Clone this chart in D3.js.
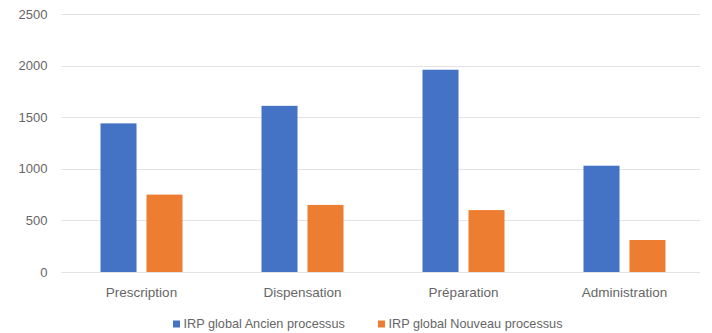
<!DOCTYPE html>
<html>
<head>
<meta charset="utf-8">
<script src="https://cdn.jsdelivr.net/npm/d3@7"></script>
<style>
  html, body { margin: 0; padding: 0; background: #fff; }
  svg { display: block; font-family: "Liberation Sans", Arial, sans-serif; }
</style>
</head>
<body>
<svg id="chart" width="712" height="333"></svg>
<script>
// Étapes du circuit du médicament
const categories = ["Prescription", "Dispensation", "Préparation", "Administration"];
// IRP global par étape
const ancien = [1440, 1610, 1960, 1030];
const nouveau = [750, 650, 600, 310];
const seriesNames = ["IRP global Ancien processus", "IRP global Nouveau processus"];
const seriesColors = ["#4472C4", "#ED7D31"];
const yTicks = [0, 500, 1000, 1500, 2000, 2500];

const textColor = "#666666";
const svg = d3.select("#chart");
const plot = { left: 61, right: 705, top: 14, bottom: 272 };

const x0 = d3.scaleBand().domain(categories).range([plot.left, plot.right]).padding(0);
const x1 = d3.scaleBand().domain([0, 1]).range([0, x0.bandwidth()])
  .paddingInner(0.217).paddingOuter(0.859);
const y = d3.scaleLinear().domain([0, 2500]).range([plot.bottom, plot.top]);

// Grille horizontale
svg.append("g")
  .selectAll("line")
  .data(yTicks)
  .join("line")
  .attr("x1", plot.left)
  .attr("x2", plot.right - 5)
  .attr("y1", d => Math.round(y(d)) + 0.5)
  .attr("y2", d => Math.round(y(d)) + 0.5)
  .attr("stroke", "#e3e3e3")
  .attr("stroke-width", 1);

// Axe des valeurs
const yAxis = d3.axisLeft(y).tickValues(yTicks).tickFormat(d3.format("d")).tickSize(0).tickPadding(0);
svg.append("g")
  .attr("transform", `translate(${plot.left - 13.5},0)`)
  .call(yAxis)
  .call(g => g.select(".domain").remove())
  .call(g => g.selectAll("text")
    .attr("fill", textColor)
    .attr("font-size", 13)
    .attr("font-family", "Liberation Sans, Arial, sans-serif"));

// Barres groupées
const rows = categories.map((c, i) => ({ cat: c, vals: [ancien[i], nouveau[i]] }));
svg.append("g")
  .selectAll("g")
  .data(rows)
  .join("g")
  .attr("transform", d => `translate(${x0(d.cat)},0)`)
  .selectAll("rect")
  .data(d => d.vals.map((v, k) => ({ k, v })))
  .join("rect")
  .attr("x", d => x1(d.k))
  .attr("width", x1.bandwidth())
  .attr("y", d => y(d.v))
  .attr("height", d => y(0) - y(d.v))
  .attr("fill", d => seriesColors[d.k]);

// Axe des catégories
const xAxis = d3.axisBottom(x0).tickSize(0).tickPadding(0);
svg.append("g")
  .attr("transform", `translate(0,${plot.bottom + 15})`)
  .call(xAxis)
  .call(g => g.select(".domain").remove())
  .call(g => g.selectAll("text")
    .attr("fill", textColor)
    .attr("font-size", 13.5)
    .attr("font-family", "Liberation Sans, Arial, sans-serif"));

// Légende
const legendX = [173, 378];
const legend = svg.append("g")
  .selectAll("g")
  .data(seriesNames)
  .join("g")
  .attr("transform", (d, i) => `translate(${legendX[i]},324)`);
legend.append("rect")
  .attr("x", 0).attr("y", -3.5)
  .attr("width", 7).attr("height", 7)
  .attr("fill", (d, i) => seriesColors[i]);
legend.append("text")
  .attr("x", 10.5).attr("y", 0)
  .attr("dy", "0.35em")
  .attr("fill", textColor)
  .attr("font-size", 12.7)
  .text(d => d);
</script>
</body>
</html>
